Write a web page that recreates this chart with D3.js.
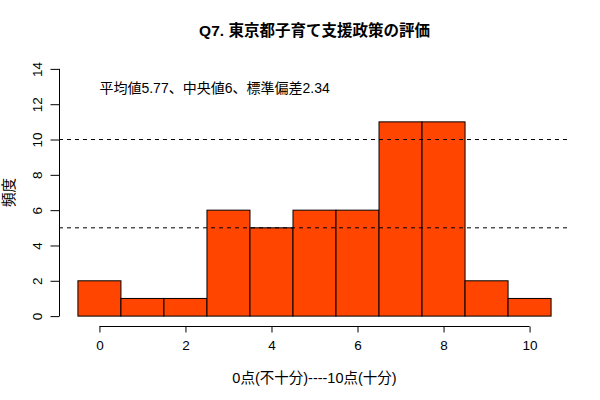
<!DOCTYPE html>
<html>
<head>
<meta charset="utf-8">
<script src="https://cdn.jsdelivr.net/npm/d3@7"></script>
<style>
  body { margin: 0; background: #fff; }
  svg text { font-family: "Liberation Sans", Arial, "Noto Sans CJK JP", sans-serif; }
</style>
</head>
<body>
<div id="chart"></div>
<script>
// score bins (0..10) and respondent counts
var scores = [0, 1, 2, 3, 4, 5, 6, 7, 8, 9, 10];
var counts = [2, 1, 1, 6, 5, 6, 6, 11, 11, 2, 1];
var xTicks = [0, 2, 4, 6, 8, 10];
var yTicks = [0, 2, 4, 6, 8, 10, 12, 14];
var refLines = [5, 10];

var titleText = "Q7. 東京都子育て支援政策の評価";
var noteText = "平均値5.77、中央値6、標準偏差2.34";
var xLabel = "0点(不十分)----10点(十分)";
var yLabel = "頻度";

var width = 600, height = 400;
var plot = {left: 59, right: 570, top: 59, bottom: 326};

var svg = d3.select("#chart").append("svg")
    .attr("width", width)
    .attr("height", height);

// R style: usr range padded by 4%
var x = d3.scaleLinear().domain([-0.94, 10.94]).range([plot.left, plot.right]);
var y = d3.scaleLinear().domain([-0.56, 14.56]).range([plot.bottom, plot.top]);

// bars
svg.selectAll("rect.bar")
    .data(scores)
    .enter().append("rect")
    .attr("class", "bar")
    .attr("x", function (d) { return x(d - 0.5); })
    .attr("y", function (d, i) { return y(counts[i]); })
    .attr("width", function (d) { return x(d + 0.5) - x(d - 0.5); })
    .attr("height", function (d, i) { return y(0) - y(counts[i]); })
    .attr("fill", "#ff4500")
    .attr("stroke", "#000")
    .attr("stroke-width", 1);

// dashed reference lines
svg.selectAll("line.ref")
    .data(refLines)
    .enter().append("line")
    .attr("class", "ref")
    .attr("x1", plot.left)
    .attr("x2", plot.right)
    .attr("y1", function (d) { return y(d); })
    .attr("y2", function (d) { return y(d); })
    .attr("stroke", "#000")
    .attr("stroke-dasharray", "4,4");

// x axis
var xAxis = svg.append("g")
    .attr("transform", "translate(0," + (plot.bottom + 0.5) + ")")
    .call(d3.axisBottom(x).tickValues(xTicks).tickSize(6).tickSizeOuter(0).tickPadding(8));
xAxis.select(".domain").attr("d", "M" + x(0) + ",0H" + x(10));
xAxis.selectAll("text").attr("font-size", 13.5).attr("fill", "#000")
    .style("font-family", "'Liberation Sans', Arial, sans-serif");

// y axis, tick labels rotated like R las=0
var yAxis = svg.append("g")
    .attr("transform", "translate(" + (plot.left + 0.5) + ",0)")
    .call(d3.axisLeft(y).tickValues(yTicks).tickSize(9).tickSizeOuter(0).tickPadding(0));
yAxis.select(".domain").attr("d", "M0," + y(0) + "V" + y(14));
yAxis.selectAll(".tick text")
    .attr("font-size", 13.5)
    .attr("fill", "#000")
    .attr("x", null).attr("dy", null)
    .attr("text-anchor", "middle")
    .attr("transform", "translate(-22,0) rotate(-90)")
    .attr("dy", "0.35em")
    .style("font-family", "'Liberation Sans', Arial, sans-serif");

// title
svg.append("text")
    .attr("x", (plot.left + plot.right) / 2)
    .attr("y", 36)
    .attr("text-anchor", "middle")
    .attr("font-size", 15.5)
    .attr("font-weight", "bold")
    .text(titleText);

// note
svg.append("text")
    .attr("x", x(0))
    .attr("y", 93)
    .attr("font-size", 14)
    .text(noteText);

// axis labels
svg.append("text")
    .attr("x", (plot.left + plot.right) / 2)
    .attr("y", 383)
    .attr("text-anchor", "middle")
    .attr("font-size", 14.5)
    .text(xLabel);

svg.append("text")
    .attr("transform", "translate(14," + ((plot.top + plot.bottom) / 2) + ") rotate(-90)")
    .attr("text-anchor", "middle")
    .attr("font-size", 14.5)
    .text(yLabel);
</script>
</body>
</html>
